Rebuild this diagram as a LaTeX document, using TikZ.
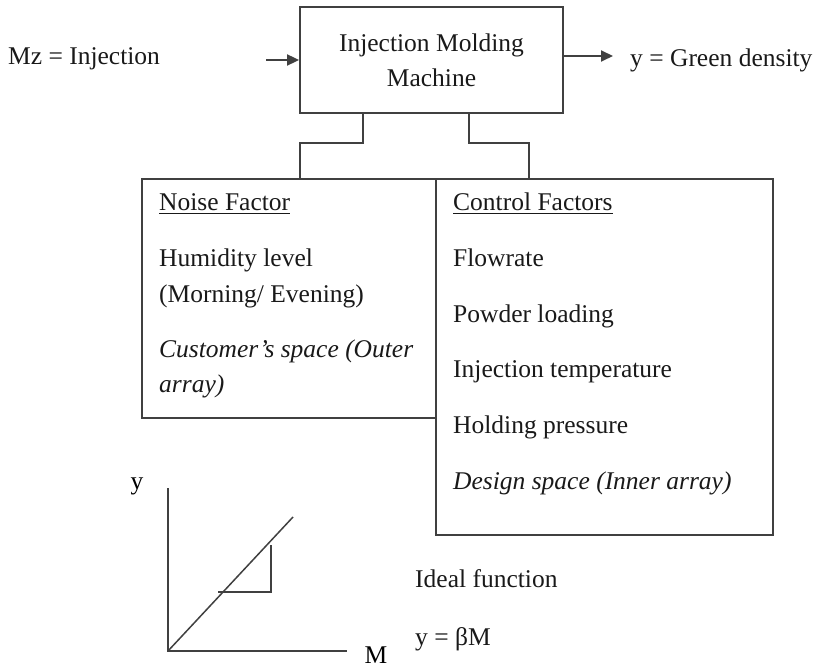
\documentclass[tikz,border=0pt]{standalone}
\usepackage{fontspec}
\setmainfont{Liberation Serif}
\usetikzlibrary{arrows.meta}
\newcommand\myul[1]{\setbox0\hbox{#1}\rlap{\rule[-3.5pt]{\wd0}{1.5pt}}\box0}
\begin{document}
\begin{tikzpicture}[x=1pt,y=-1pt,
  line/.style={draw=black!75, line width=1.8pt},
  arr/.style={line, -{Triangle[length=12pt,width=11pt]}},
  box/.style={line, rectangle, inner sep=0pt},
  txt/.style={anchor=base west, inner sep=0pt, text=black!90},
  every node/.style={font=\fontsize{25.5}{35}\selectfont}]
\useasboundingbox (0,0) rectangle (816,668);

% boxes
\node[box, minimum width=263pt, minimum height=106pt, align=center, text=black!90] (imm) at (431.5,60) {Injection Molding\\Machine};
\node[box, minimum width=294pt, minimum height=239pt] (noise) at (289,298.5) {};
\node[box, minimum width=337pt, minimum height=356pt] (ctrl) at (604.5,357) {};

% input / output
\coordinate (inS) at (266,60);
\coordinate (outE) at (613,56);
\draw[arr] (inS) -- (imm.west);
\draw[arr] (imm.east |- outE) -- (outE);
\node[txt] (mz) at (8,65) {Mz = Injection};
\node[txt] (yg) at (630,67) {y = Green density};

% connectors
\coordinate (l1) at (363,143);
\coordinate (l2) at (300,143);
\coordinate (r1) at (469,143);
\coordinate (r2) at (529,143);
\draw[line] (imm.south -| l1) -- (l1) -- (l2) -- (noise.north -| l2);
\draw[line] (imm.south -| r1) -- (r1) -- (r2) -- (ctrl.north -| r2);

% noise factor text
\node[txt] (n1) at (159,211) {\myul{Noise Factor}};
\node[txt] (n2) at (159,267) {Humidity level};
\node[txt] (n3) at (159,302) {(Morning/ Evening)};
\node[txt] (n4) at (159,357) {\itshape Customer’s space (Outer};
\node[txt] (n5) at (159,392) {\itshape array)};

% control factors text
\node[txt] (c1) at (453,211) {\myul{Control Factors}};
\node[txt] (c2) at (453,266) {Flowrate};
\node[txt] (c3) at (453,322) {Powder loading};
\node[txt] (c4) at (453,377) {Injection temperature};
\node[txt] (c5) at (453,433) {Holding pressure};
\node[txt] (c6) at (453,489) {\itshape Design space (Inner array)};

% graph
\coordinate (O) at (168,651);
\coordinate (Ytop) at (168,488);
\coordinate (Xend) at (347,651);
\coordinate (D) at (293,517);
\coordinate (T1) at (218,592);
\coordinate (T2) at (271,592);
\coordinate (T3) at (271,545);
\draw[line] (Ytop) -- (O) -- (Xend);
\draw[line, line width=1.5pt] (O) -- (D);
\draw[line] (T1) -- (T2) -- (T3);
\node[anchor=base, inner sep=0pt] (ylab) at (137,489) {y};
\node[anchor=base, inner sep=0pt] (mlab) at (376,663) {M};

% ideal function
\node[txt] (if1) at (415,587) {Ideal function};
\node[txt] (if2) at (415,645) {y = βM};
\end{tikzpicture}
\end{document}
